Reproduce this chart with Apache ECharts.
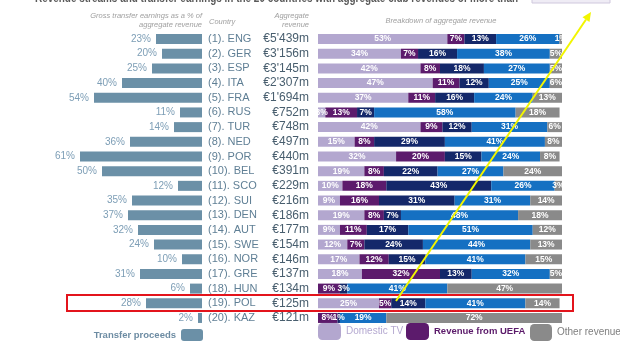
<!DOCTYPE html>
<html>
<head>
<meta charset="utf-8">
<script src="https://cdn.jsdelivr.net/npm/echarts@6/dist/echarts.min.js"></script>
<style>html,body{margin:0;padding:0;background:#fff}#c{width:620px;height:342px}</style>
</head>
<body>
<div id="c"></div>
<script>
const countries = ['(1). ENG','(2). GER','(3). ESP','(4). ITA','(5). FRA','(6). RUS','(7). TUR','(8). NED','(9). POR','(10). BEL','(11). SCO','(12). SUI','(13). DEN','(14). AUT','(15). SWE','(16). NOR','(17). GRE','(18). HUN','(19). POL','(20). KAZ'];
const revenue = ["€5'439m","€3'156m","€3'145m","€2'307m","€1'694m","€752m","€748m","€497m","€440m","€391m","€229m","€216m","€186m","€177m","€154m","€146m","€137m","€134m","€125m","€121m"];
const transfer = [23,20,25,40,54,11,14,36,61,50,12,35,37,32,24,10,31,6,28,2];
const domesticTV = [53,34,42,47,37,3,42,15,32,19,10,9,19,9,12,17,18,0,25,0];
const uefa = [7,7,8,11,11,13,9,8,20,8,18,16,8,11,7,12,32,9,5,8];
const gate = [13,16,18,12,16,7,12,29,15,22,43,31,7,17,24,15,13,3,14,1];
const commercial = [26,38,27,25,24,58,31,41,24,27,26,31,48,51,44,41,32,41,41,19];
const other = [1,5,5,6,13,18,6,8,8,24,3,14,18,12,13,15,5,47,14,72];

const FONT = "'Liberation Sans', Arial, sans-serif";
const chart = echarts.init(document.getElementById('c'));

function stackSeries(name, data, color) {
  return {
    name, type: 'bar', stack: 'rev', data, xAxisIndex: 1, yAxisIndex: 1,
    barWidth: 10, itemStyle: { color },
    label: { show: true, position: 'inside', color: '#fff', fontSize: 8.5, fontWeight: 'bold', fontFamily: FONT,
      formatter: p => p.value ? p.value + '%' : '' }
  };
}

const titleText = 'Revenue streams and transfer earnings in the 20 countries with aggregate club revenues of more than';
const cv = document.createElement('canvas').getContext('2d');
cv.font = 'bold 13px ' + FONT;
const tScale = 483 / cv.measureText(titleText).width;

const GRID_TOP = 31.7, GRID_BOTTOM = 16.7;

chart.setOption({
  backgroundColor: '#ffffff',
  animation: false,
  grid: [
    { left: 62, right: 418, top: GRID_TOP, bottom: GRID_BOTTOM },
    { left: 318, right: 58, top: GRID_TOP, bottom: GRID_BOTTOM }
  ],
  xAxis: [
    { gridIndex: 0, type: 'value', min: 0, max: 70, inverse: true, show: false },
    { gridIndex: 1, type: 'value', min: 0, max: 100, show: false }
  ],
  yAxis: [
    { gridIndex: 0, type: 'category', data: countries, inverse: true, show: false },
    { gridIndex: 1, type: 'category', data: countries, inverse: true,
      axisLine: { show: false }, axisTick: { show: false },
      axisLabel: { margin: 9, interval: 0, fontFamily: FONT,
        formatter: (v, i) => '{c|' + v + '}{r|' + revenue[i] + '}',
        rich: {
          c: { width: 51, align: 'left', color: '#5f7f95', fontSize: 11, fontFamily: FONT },
          r: { width: 50, align: 'right', color: '#485e6e', fontSize: 12, fontFamily: FONT }
        }
      }
    }
  ],
  legend: [
    { data: ['Transfer proceeds'], right: 417, top: 329, align: 'right', padding: 0, itemWidth: 22, itemHeight: 12, itemGap: 10,
      textStyle: { color: '#6d8ca3', fontWeight: 'bold', fontSize: 9.5, fontFamily: FONT } },
    { data: [{ name: 'Domestic TV', textStyle: { color: '#b4a8d0' } }], left: 318, top: 323, padding: 0, itemWidth: 23, itemHeight: 17,
      textStyle: { fontSize: 10, fontFamily: FONT } },
    { data: [{ name: 'Revenue from UEFA', textStyle: { color: '#5b1a6a', fontWeight: 'bold' } }], left: 406, top: 323, padding: 0, itemWidth: 23, itemHeight: 17,
      textStyle: { fontSize: 9.5, fontFamily: FONT } },
    { data: [{ name: 'Other revenue', textStyle: { color: '#7f7f7f' } }], left: 530, top: 324, padding: 0, itemWidth: 22, itemHeight: 17,
      textStyle: { fontSize: 10, fontFamily: FONT } }
  ],
  series: [
    { name: 'Transfer proceeds', type: 'bar', data: transfer, xAxisIndex: 0, yAxisIndex: 0, barWidth: 10,
      itemStyle: { color: '#6b90a7' },
      label: { show: true, position: 'left', distance: 5, color: '#7d9eb6', fontSize: 10, fontFamily: FONT, formatter: p => p.value + '%' } },
    stackSeries('Domestic TV', domesticTV, '#b3a7cf'),
    stackSeries('Revenue from UEFA', uefa, '#5c1b6c'),
    stackSeries('Gate receipts', gate, '#14286a'),
    stackSeries('Sponsorship/commercial', commercial, '#1570c2'),
    stackSeries('Other revenue', other, '#8a8a8a')
  ],
  graphic: [
    { type: 'text', x: 35, y: -8, scaleX: tScale, z: 10,
      style: { text: titleText, font: 'bold 13px ' + FONT, fill: '#5a5a5a' } },
    { type: 'rect', shape: { x: 532, y: -10, width: 78, height: 13 }, z: 10,
      style: { fill: '#efecf5', stroke: '#cfc8dd', lineWidth: 1 } },
    { type: 'text', x: 202, y: 12, z: 10, style: { text: 'Gross transfer earnings as a % of', align: 'right', font: 'italic 7.5px ' + FONT, fill: '#a0a0a0' } },
    { type: 'text', x: 202, y: 21, z: 10, style: { text: 'aggregate revenue', align: 'right', font: 'italic 7.5px ' + FONT, fill: '#a0a0a0' } },
    { type: 'text', x: 209, y: 18, z: 10, style: { text: 'Country', align: 'left', font: 'italic 7.5px ' + FONT, fill: '#a0a0a0' } },
    { type: 'text', x: 309, y: 12, z: 10, style: { text: 'Aggregate', align: 'right', font: 'italic 7.5px ' + FONT, fill: '#a0a0a0' } },
    { type: 'text', x: 309, y: 21, z: 10, style: { text: 'revenue', align: 'right', font: 'italic 7.5px ' + FONT, fill: '#a0a0a0' } },
    { type: 'text', x: 441, y: 17, z: 10, style: { text: 'Breakdown of aggregate revenue', align: 'center', font: 'italic 7.5px ' + FONT, fill: '#a0a0a0' } },
    { type: 'rect', shape: { x: 67, y: 295, width: 506, height: 16 }, z: 20,
      style: { fill: 'none', stroke: '#e3141c', lineWidth: 2 } },
    { type: 'line', shape: { x1: 396, y1: 301, x2: 586, y2: 19.5 }, z: 30,
      style: { stroke: '#f2f500', lineWidth: 2 } },
    { type: 'polygon', shape: { points: [[591, 12], [589.5, 22], [582.5, 17.3]] }, z: 30,
      style: { fill: '#f2f500' } }
  ]
});
</script>
</body>
</html>
